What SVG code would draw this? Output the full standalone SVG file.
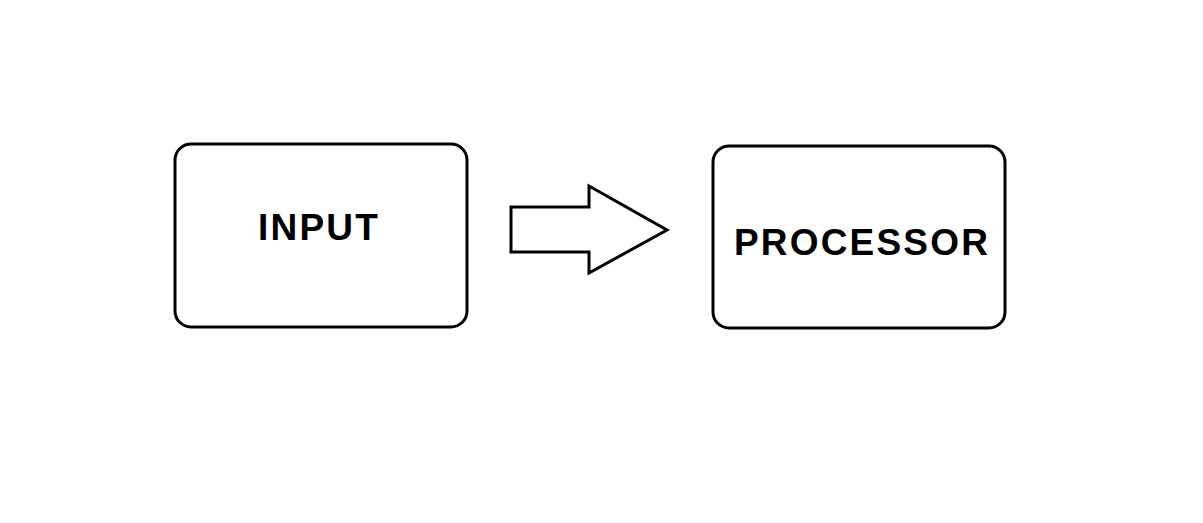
<svg xmlns="http://www.w3.org/2000/svg" width="1203" height="523" viewBox="0 0 1203 523">
<style>
.box{fill:#fff;stroke:#000;stroke-width:3}
.lbl{font-family:"Liberation Sans",Arial,sans-serif;font-weight:bold;font-size:37px;fill:#000;text-anchor:middle;letter-spacing:2.2px}
</style>
<rect width="1203" height="523" fill="#fff"/>
<g id="input"><rect class="box" x="175" y="144" width="292" height="183" rx="16"/><text class="lbl" x="319" y="240">INPUT</text></g>
<g id="processor"><rect class="box" x="713" y="146" width="292" height="182" rx="16"/><text class="lbl" x="862" y="255">PROCESSOR</text></g>
<g id="connectors"><polygon class="box" points="511,207 589,207 589,186 667,230 589,273 589,252 511,252"/></g>
</svg>
